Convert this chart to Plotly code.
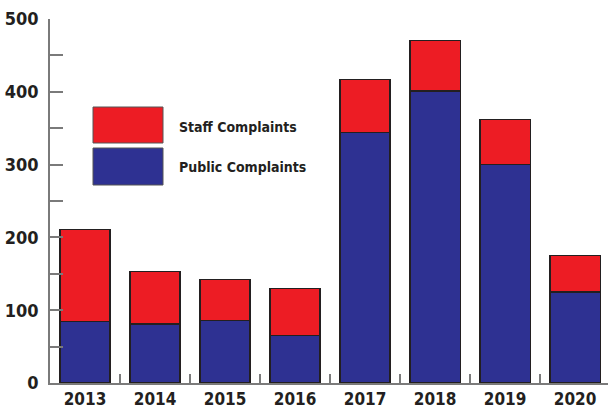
import plotly.graph_objects as go

years = ["2013", "2014", "2015", "2016", "2017", "2018", "2019", "2020"]
public_complaints = [84, 81, 86, 65, 344, 401, 300, 125]
staff_complaints = [127, 72, 56, 65, 73, 70, 62, 50]
y_ticks = [0, 100, 200, 300, 400, 500]

RED = "#ED1C24"
BLUE = "#2E3192"
OUTLINE = "#231f20"
AXIS = "#7a7a7a"
FONT = "DejaVu Sans Condensed, Liberation Sans Narrow, sans-serif"

W, H = 608, 413
ML, MR, MT, MB = 50, 0, 19, 30

fig = go.Figure()
fig.add_trace(go.Bar(x=years, y=public_complaints, name="Public Complaints",
                     marker=dict(color=BLUE, line=dict(color=OUTLINE, width=1.2)),
                     width=0.715, showlegend=False))
fig.add_trace(go.Bar(x=years, y=staff_complaints, name="Staff Complaints",
                     marker=dict(color=RED, line=dict(color=OUTLINE, width=1.2)),
                     width=0.715, showlegend=False))

pw = W - ML - MR
ph = H - MT - MB
def px(x):
    return (x - ML) / pw
def py(y):
    return (H - MB - y) / ph

# legend swatches
for (y0, y1, col) in [(107, 143, RED), (148, 185, BLUE)]:
    fig.add_shape(type="rect", xref="paper", yref="paper",
                  x0=px(93), x1=px(163), y0=py(y1), y1=py(y0),
                  fillcolor=col, line=dict(color="#555555", width=1))
for (yc, txt) in [(127, "Staff Complaints"), (167, "Public Complaints")]:
    fig.add_annotation(xref="paper", yref="paper", x=px(177), y=py(yc),
                       text=txt, showarrow=False,
                       xanchor="left", yanchor="middle",
                       font=dict(family=FONT, size=14, weight="bold", color=OUTLINE))

fig.update_layout(
    barmode="stack",
    width=W, height=H,
    margin=dict(l=ML, r=MR, t=MT, b=MB, pad=0),
    paper_bgcolor="white", plot_bgcolor="white",
    font=dict(family=FONT, color=OUTLINE),
    xaxis=dict(range=[-0.5, 7.47], showgrid=False, showline=True, automargin=False,
               linecolor=AXIS, linewidth=1.5, ticks="inside", ticklen=9,
               tickcolor=AXIS, tickwidth=1.5, tickson="boundaries",
               tickfont=dict(family=FONT, size=17, weight="bold", color=OUTLINE),
               zeroline=False),
    yaxis=dict(range=[0, 500], tickvals=y_ticks, showgrid=False, showline=True, automargin=False,
               linecolor=AXIS, linewidth=1.5, ticks="inside", ticklen=13,
               tickcolor=AXIS, tickwidth=1.5, zeroline=False,
               minor=dict(dtick=50, ticks="inside", ticklen=13, tickcolor=AXIS, tickwidth=1.5, showgrid=False),
               tickfont=dict(family=FONT, size=18, weight="bold", color=OUTLINE),
               ticklabelstandoff=6),
)

fig.write_html("out.html",
               config={"displayModeBar": False},
               post_script="document.body.style.margin='0';document.body.style.overflow='hidden';")
